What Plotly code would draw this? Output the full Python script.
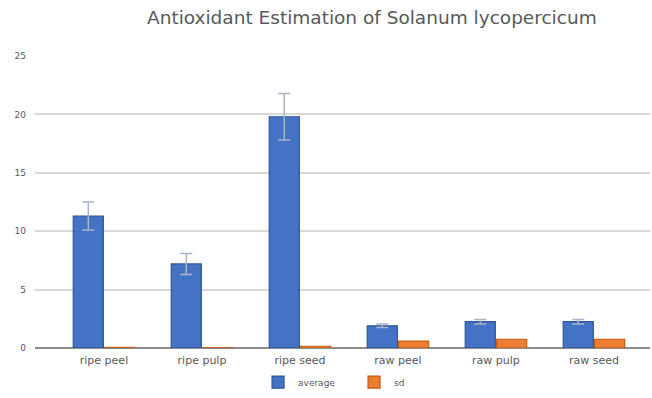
import plotly.graph_objects as go

categories = ["ripe peel", "ripe pulp", "ripe seed", "raw peel", "raw pulp", "raw seed"]
average = [11.3, 7.2, 19.8, 1.9, 2.25, 2.25]
average_err = [1.2, 0.9, 2.0, 0.15, 0.2, 0.2]
sd = [0.05, 0.03, 0.15, 0.6, 0.75, 0.75]

fig = go.Figure()
fig.add_trace(go.Bar(
    x=categories, y=average, name="average",
    marker=dict(color="#4472C4", line=dict(color="#2F5597", width=1.2)),
    error_y=dict(type="data", array=average_err, visible=True,
                 color="#A9B4C8", thickness=1.5, width=6),
))
fig.add_trace(go.Bar(
    x=categories, y=sd, name="sd",
    marker=dict(color="#ED7D31", line=dict(color="#C55A11", width=1.2)),
))

fig.update_layout(
    width=652, height=398,
    margin=dict(l=35, r=2, t=56, b=50, autoexpand=False),
    paper_bgcolor="white", plot_bgcolor="white",
    barmode="group", bargap=0.36, bargroupgap=0.04,
    font=dict(family="DejaVu Sans", color="#595959", size=10),
    showlegend=True,
    legend=dict(orientation="h", x=0.543, xref="container", xanchor="center",
                y=0.04, yref="container", yanchor="middle",
                font=dict(size=9, color="#595959"), itemwidth=30, entrywidth=51),
    annotations=[dict(text="Antioxidant Estimation of Solanum lycopercicum",
                      xref="paper", yref="paper", x=0.548, y=1.0, yshift=39,
                      xanchor="center", yanchor="middle", showarrow=False,
                      font=dict(size=18.5, color="#595959"))],
)
fig.update_xaxes(range=[-0.704, 5.572], showgrid=False, showline=False,
                 ticks="", tickfont=dict(size=11, color="#595959"), ticklabelstandoff=4)
fig.update_yaxes(range=[0, 25], dtick=5, showgrid=True, gridcolor="#D9D9D9",
                 gridwidth=1.5, zeroline=True, zerolinecolor="#8C8C8C", zerolinewidth=1.5,
                 ticks="", tickfont=dict(size=9, color="#595959"), ticklabelstandoff=8)

fig.write_html("out.html", config={"displayModeBar": False},
               post_script="document.body.style.margin='0';")
